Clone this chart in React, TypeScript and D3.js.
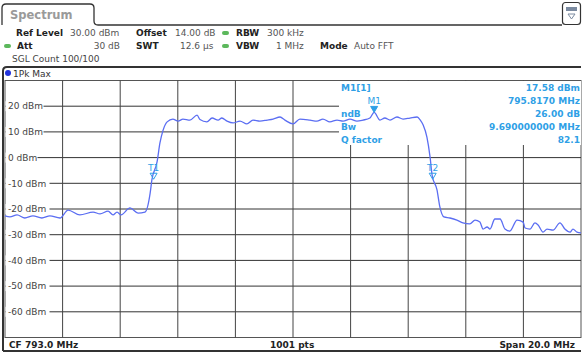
import React from "react";
import * as d3 from "d3";

// ---- Data ----
const freqMHz = [
  783.0, 783.17, 783.42, 783.69, 783.97, 784.28, 784.56, 784.91, 785.19, 785.6,
  786.06, 786.3, 786.58, 786.75, 786.89, 787.03, 787.34, 787.62, 787.86, 788.04,
  788.1, 788.28, 788.38, 788.49, 788.63, 788.83, 789.01, 789.18, 789.42, 789.67,
  789.77, 790.01, 790.19, 790.4, 790.53, 790.71, 790.92, 791.16, 791.4, 791.61,
  791.85, 792.1, 792.31, 792.55, 792.72, 793.0, 793.24, 793.59, 793.83, 794.04,
  794.28, 794.53, 794.74, 794.98, 795.22, 795.43, 795.67, 795.817, 796.02, 796.19,
  796.37, 796.61, 796.82, 797.06, 797.31, 797.42, 797.52, 797.65, 797.76, 797.83,
  798.0, 798.1, 798.24, 798.45, 798.69, 798.9, 799.14, 799.32, 799.49, 799.6,
  799.74, 799.84, 800.01, 800.19, 800.36, 800.53, 800.78, 800.99, 801.06, 801.23,
  801.4, 801.51, 801.68, 801.82, 802.03, 802.27, 802.44, 802.62, 802.72, 802.86,
  803.0,
];
const levelDbm = [
  -22.7, -23.1, -22.3, -23.5, -22.7, -23.5, -22.7, -23.5, -20.4, -22.3,
  -21.2, -21.9, -20.8, -22.3, -21.2, -22.3, -19.6, -21.6, -21.2, -13.8,
  -8.7, -1.7, 5.7, 10.7, 13.9, 15.0, 14.2, 15.0, 14.6, 16.5,
  14.8, 13.9, 15.4, 14.6, 15.4, 14.2, 13.5, 14.2, 13.1, 14.6,
  14.2, 14.6, 15.0, 15.8, 14.6, 13.1, 15.0, 14.6, 14.2, 15.0,
  13.9, 14.6, 14.2, 15.0, 14.2, 14.6, 15.4, 17.58, 14.6, 15.4,
  14.6, 15.8, 15.0, 15.4, 15.8, 14.6, 12.7, 8.0, 0.2, -6.8,
  -12.6, -19.2, -23.1, -23.5, -24.3, -25.4, -25.8, -24.3, -25.1, -27.8,
  -27.0, -27.8, -23.9, -23.9, -27.8, -28.6, -24.3, -25.1, -27.4, -27.8,
  -25.4, -26.2, -29.0, -27.8, -28.2, -25.4, -27.8, -29.0, -27.8, -29.0,
  -29.3,
];
const yTickValues = [20, 10, 0, -10, -20, -30, -40, -50, -60];
const yTickLabels = ["20 dBm", "10 dBm", "0 dBm", "-10 dBm", "-20 dBm", "-30 dBm", "-40 dBm", "-50 dBm", "-60 dBm"];
const xGridValues = [785, 787, 789, 791, 793, 795, 797, 799, 801];

const markerNames = ["M1", "T1", "T2"];
const markerFreqs = [795.817, 788.16, 797.85];
const markerLevels = [17.58, -8.42, -8.42];

const infoLabels = ["M1[1]", "", "ndB", "Bw", "Q factor"];
const infoValues = ["17.58 dBm", "795.8170 MHz", "26.00 dB", "9.690000000 MHz", "82.1"];

const FONT = "DejaVu Sans, Verdana, sans-serif";
const TRACE = "#5b6ef2";
const MARK = "#2f9fe6";
const GREEN = "#5cb85c";

export default function App() {
  const x = d3.scaleLinear().domain([783, 803]).range([5, 581]);
  const y = d3.scaleLinear().domain([-70, 30]).range([337.5, 80.5]);
  const pts = freqMHz.map((f, i) => [f, levelDbm[i]] as [number, number]);
  const line = d3
    .line<[number, number]>()
    .x((d) => x(d[0]))
    .y((d) => y(d[1]))
    .curve(d3.curveMonotoneX);

  const infoX0 = 339;
  const infoY1 = 145;

  const lbl = (t: string, xx: number, yy: number, bold = false, fill = "#222", anchor: "start" | "end" | "middle" = "start") => (
    <text x={xx} y={yy} fontFamily={FONT} fontSize={9} fontWeight={bold ? "bold" : "normal"} fill={fill} textAnchor={anchor}>
      {t}
    </text>
  );

  return (
    <svg width={582} height={353} style={{ position: "absolute", left: 0, top: 0, background: "#fff" }}>
      <rect x={0} y={0} width={582} height={353} fill="#fff" />
      {/* Tab */}
      <path d="M2,25 L2,8 Q2,4 6,4 L90,4 Q94,4 94,8 L94,21 Q94,25 98,25 L562,25" fill="none" stroke="#333" strokeWidth={1.3} />
      <text x={10} y={19} fontFamily={FONT} fontSize={11.5} fontWeight="bold" fill="#9a9a9a">Spectrum</text>
      {/* Right icon */}
      <rect x={562.5} y={2.5} width={18} height={22} rx={3} fill="#fff" stroke="#333" strokeWidth={1.2} />
      <rect x={566} y={7} width={11} height={4} fill="#7a8aa0" />
      <path d="M568,14 L575,14 L571.5,19 Z" fill="none" stroke="#7a8aa0" strokeWidth={1} />

      {/* Header rows */}
      {lbl("Ref Level", 16, 35.5, true)}
      {lbl("30.00 dBm", 70, 35.5, false, "#555")}
      {lbl("Offset", 136, 35.5, true)}
      {lbl("14.00 dB", 175, 35.5, false, "#555")}
      <rect x={222} y={31} width={7} height={4} rx={2} fill={GREEN} />
      {lbl("RBW", 236, 35.5, true)}
      {lbl("300 kHz", 267, 35.5, false, "#555")}

      <rect x={4} y={44} width={7} height={4} rx={2} fill={GREEN} />
      {lbl("Att", 17, 48.5, true)}
      {lbl("30 dB", 120, 48.5, false, "#555", "end")}
      {lbl("SWT", 136, 48.5, true)}
      {lbl("12.6 µs", 180, 48.5, false, "#555")}
      <rect x={222} y={44} width={7} height={4} rx={2} fill={GREEN} />
      {lbl("VBW", 236, 48.5, true)}
      {lbl("1 MHz", 276, 48.5, false, "#555")}
      {lbl("Mode", 320, 48.5, true)}
      {lbl("Auto FFT", 354, 48.5, false, "#555")}

      {lbl("SGL Count 100/100", 12, 61.5, false, "#444")}

      {/* Panel frame */}
      <path d="M3,351 L3,71 Q3,67 7,67 L581,67" fill="none" stroke="#333" strokeWidth={2} />
      <line x1={3} y1={351} x2={581} y2={351} stroke="#333" strokeWidth={2} />
      <circle cx={8} cy={73} r={3} fill="#2233dd" />
      {lbl("1Pk Max", 13, 76.5, false, "#333")}

      {/* Grid */}
      <rect x={5} y={80.5} width={576} height={257} fill="none" stroke="#555" strokeWidth={1} />
      {yTickValues.map((v) => (
        <line key={"h" + v} x1={5} x2={581} y1={y(v)} y2={y(v)} stroke="#333" strokeWidth={1} />
      ))}
      {xGridValues.map((v) => (
        <line key={"v" + v} x1={x(v)} x2={x(v)} y1={80.5} y2={337.5} stroke="#444" strokeWidth={1} />
      ))}
      {/* Info box background */}
      <rect x={infoX0} y={81} width={581 - infoX0} height={infoY1 - 81} fill="#fff" />

      {/* Y labels */}
      {yTickValues.map((v, i) => (
        <g key={"yl" + v}>
          <rect x={5.5} y={y(v) - 5} width={yTickLabels[i].length * 6 + 2} height={10} fill="#fff" />
          <text x={8} y={y(v) + 3.2} fontFamily={FONT} fontSize={9} fill="#444">{yTickLabels[i]}</text>
        </g>
      ))}

      {/* Trace */}
      <path d={line(pts) || ""} fill="none" stroke={TRACE} strokeWidth={1.3} />

      {/* Markers */}
      {markerNames.map((n, i) => {
        const mx = x(markerFreqs[i]);
        const my = y(markerLevels[i]);
        const filled = n.startsWith("M");
        return (
          <g key={n}>
            <path d={`M${mx - 3.5},${my - 6} L${mx + 3.5},${my - 6} L${mx},${my} Z`} fill={filled ? MARK : "none"} stroke={MARK} strokeWidth={1} />
            <text x={mx} y={my - 8.5} fontFamily={FONT} fontSize={9} fill={MARK} textAnchor="middle">{n}</text>
          </g>
        );
      })}

      {/* Info */}
      {infoLabels.map((t, i) => (
        <text key={"il" + i} x={341} y={90.5 + i * 13} fontFamily={FONT} fontSize={9} fontWeight="bold" fill={MARK}>{t}</text>
      ))}
      {infoValues.map((t, i) => (
        <text key={"iv" + i} x={580} y={90.5 + i * 13} fontFamily={FONT} fontSize={9} fontWeight="bold" fill={MARK} textAnchor="end">{t}</text>
      ))}

      {/* Bottom bar */}
      <rect x={4} y={338} width={577} height={12} fill="#fff" />
      {lbl("CF 793.0 MHz", 9, 347.5, true)}
      {lbl("1001 pts", 270, 347.5, true)}
      {lbl("Span 20.0 MHz", 575, 347.5, true, "#222", "end")}
    </svg>
  );
}
